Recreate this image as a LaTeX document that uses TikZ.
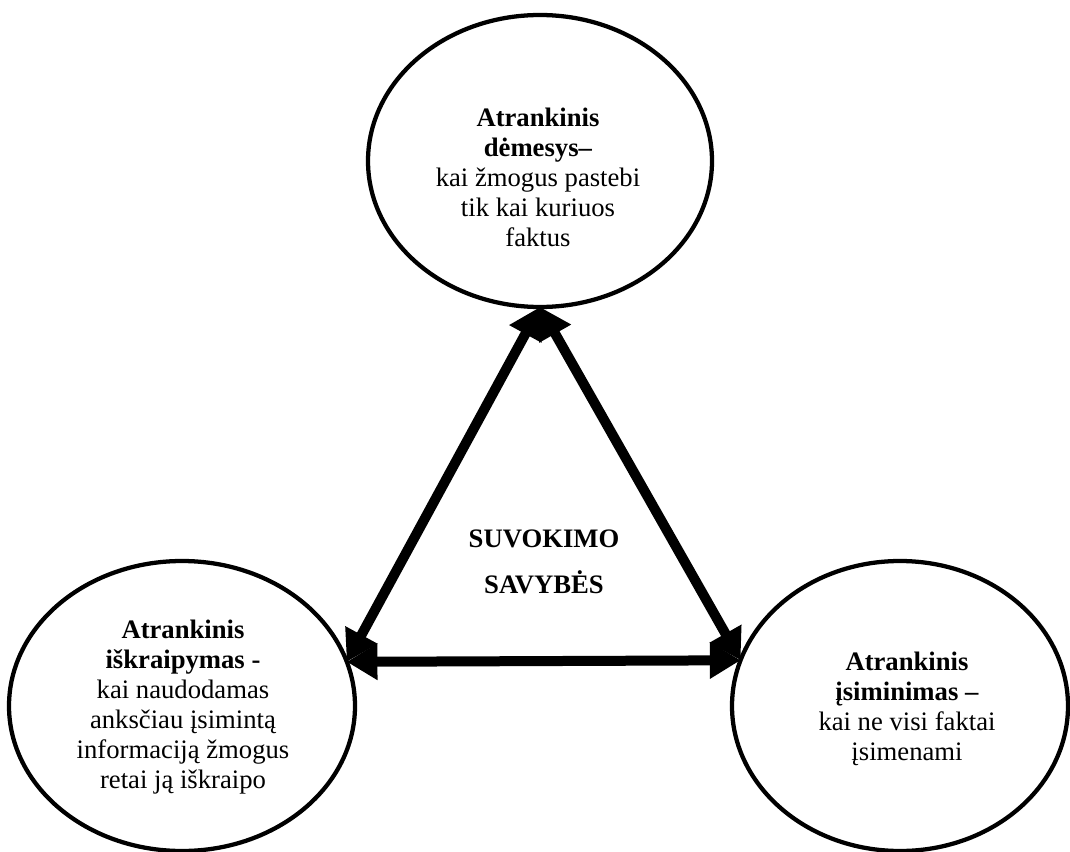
\documentclass[tikz,border=0pt]{standalone}
\usepackage{fontspec}
\setmainfont{Liberation Serif}
\usetikzlibrary{shapes.geometric,arrows.meta}
\begin{document}
\begin{tikzpicture}[x=0.75pt,y=-0.75pt,
  bubble/.style={draw,ellipse,line width=3.2pt,inner sep=0pt,outer sep=0pt},
  bubbletext/.style={align=center,font=\fontsize{20}{22.5}\selectfont},
  link/.style={line width=7.5pt,
    {Triangle[length=23pt,width=26pt]}-{Triangle[length=23pt,width=26pt]}}]
  \useasboundingbox (0,0) rectangle (1070,852);

  % three property bubbles
  \node[bubble,minimum width=258pt,minimum height=219pt] (top) at (540,161) {};
  \node[bubble,minimum width=259.5pt,minimum height=217.5pt] (left) at (182,706) {};
  \node[bubble,minimum width=252pt,minimum height=217.5pt] (right) at (900,706) {};

  \node[bubbletext] (toptext) at (538,177)
    {\textbf{Atrankinis}\\\textbf{dėmesys–}\\kai žmogus pastebi\\tik kai kuriuos\\faktus};
  \node[bubbletext] (lefttext) at (183,707)
    {\textbf{Atrankinis}\\\textbf{iškraipymas -}\\kai naudodamas\\anksčiau įsimintą\\informaciją žmogus\\retai ją iškraipo};
  \node[bubbletext] (righttext) at (907,709)
    {\textbf{Atrankinis}\\\textbf{įsiminimas –}\\kai ne visi faktai\\įsimenami};

  % centre title
  \node[align=center,font=\fontsize{20}{35}\selectfont\bfseries] (title) at (544,562)
    {SUVOKIMO\\SAVYBĖS};

  % two-way links between the bubbles
  \draw[link] (top.south) -- (left.15.3);
  \draw[link] (top.south) -- (right.164.5);
  \draw[link] (left.15.3) -- (right.164.5);
\end{tikzpicture}
\end{document}
